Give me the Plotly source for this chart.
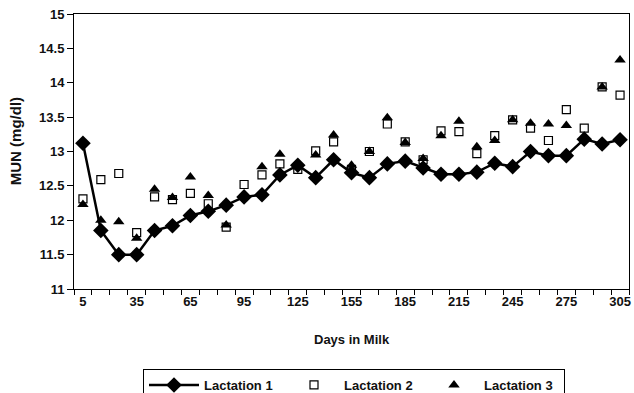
import plotly.graph_objects as go

days = [5, 15, 25, 35, 45, 55, 65, 75, 85, 95, 105, 115, 125, 135, 145, 155,
        165, 175, 185, 195, 205, 215, 225, 235, 245, 255, 265, 275, 285, 295, 305]

lactation1 = [13.12, 11.85, 11.50, 11.50, 11.85, 11.92, 12.07, 12.13, 12.22, 12.34,
              12.37, 12.66, 12.80, 12.62, 12.88, 12.69, 12.62, 12.82, 12.86, 12.76,
              12.67, 12.67, 12.70, 12.83, 12.78, 13.00, 12.94, 12.94, 13.18, 13.11, 13.17]

lactation2 = [12.31, 12.59, 12.68, 11.82, 12.34, 12.30, 12.39, 12.24, 11.90, 12.52,
              12.66, 12.82, 12.74, 13.01, 13.14, 12.74, 13.00, 13.40, 13.14, 12.88,
              13.30, 13.29, 12.97, 13.23, 13.46, 13.34, 13.16, 13.61, 13.34, 13.94, 13.82]

lactation3 = [12.23, 12.00, 11.98, 11.74, 12.45, 12.33, 12.63, 12.36, 11.93, 12.36,
              12.78, 12.96, 12.78, 12.95, 13.24, 12.80, 13.00, 13.49, 13.13, 12.90,
              13.23, 13.44, 13.07, 13.16, 13.46, 13.41, 13.40, 13.38, 13.20, 13.94, 14.33]

x_tick_labels = [5, 35, 65, 95, 125, 155, 185, 215, 245, 275, 305]
y_tick_values = [11, 11.5, 12, 12.5, 13, 13.5, 14, 14.5, 15]

FONT = "Liberation Sans, Arial, sans-serif"
TXT = "#111111"
TICKFONT = dict(family=FONT, size=13, color=TXT, weight="bold")

fig = go.Figure()

fig.add_trace(go.Scatter(
    x=days, y=lactation2, name="Lactation 2", mode="markers",
    marker=dict(symbol="square-open", size=8, color="black", line=dict(width=1.2, color="black")),
    legendrank=2,
))
fig.add_trace(go.Scatter(
    x=days, y=lactation3, name="Lactation 3", mode="markers",
    marker=dict(symbol="triangle-up", size=10, color="black"),
    legendrank=3,
))
fig.add_trace(go.Scatter(
    x=days, y=lactation1, name="Lactation 1", mode="lines+markers",
    line=dict(color="black", width=2.5),
    marker=dict(symbol="diamond", size=12, color="black"),
    legendrank=1,
))

fig.update_layout(
    width=634, height=393,
    margin=dict(l=74, r=3, t=14, b=104),
    paper_bgcolor="white", plot_bgcolor="white",
    font=dict(family=FONT, size=13, color=TXT),
    showlegend=True,
    legend=dict(
        orientation="h",
        xref="container", x=143 / 634, xanchor="left",
        yref="container", y=(393 - 369) / 393, yanchor="top",
        bordercolor="black", borderwidth=1, bgcolor="white",
        font=TICKFONT,
        itemwidth=50,
        entrywidth=75, entrywidthmode="pixels",
        traceorder="normal",
    ),
    xaxis=dict(
        range=[0, 310], showgrid=False, zeroline=False,
        tickmode="array", tickvals=x_tick_labels,
        ticktext=[str(v) for v in x_tick_labels],
        ticks="", tickfont=TICKFONT,
        showline=True, linecolor="black", linewidth=1, mirror=True,
        minor=dict(tickmode="linear", tick0=0, dtick=10, ticks="outside",
                   ticklen=5, tickcolor="black", tickwidth=1, showgrid=False),
    ),
    yaxis=dict(
        range=[11, 15], showgrid=False, zeroline=False,
        tickmode="array", tickvals=y_tick_values,
        ticktext=[f"{v:g}" for v in y_tick_values],
        ticks="outside", ticklen=6, tickcolor="black", tickwidth=1,
        tickfont=TICKFONT,
        showline=True, linecolor="black", linewidth=1, mirror=True,
    ),
    annotations=[
        dict(text="Days in Milk", xref="paper", yref="paper", x=0.5, y=(289 - 339) / 275,
             xanchor="center", yanchor="middle", showarrow=False,
             font=TICKFONT),
        dict(text="MUN (mg/dl)", xref="paper", yref="paper", x=(15 - 74) / 557, y=(289 - 141) / 275,
             xanchor="center", yanchor="middle", textangle=-90, showarrow=False,
             font=dict(family=FONT, size=15, color=TXT, weight="bold")),
    ],
)

fig.write_html(
    "out.html",
    config={"displayModeBar": False},
    post_script="document.body.style.margin='0';document.body.style.padding='0';",
)
